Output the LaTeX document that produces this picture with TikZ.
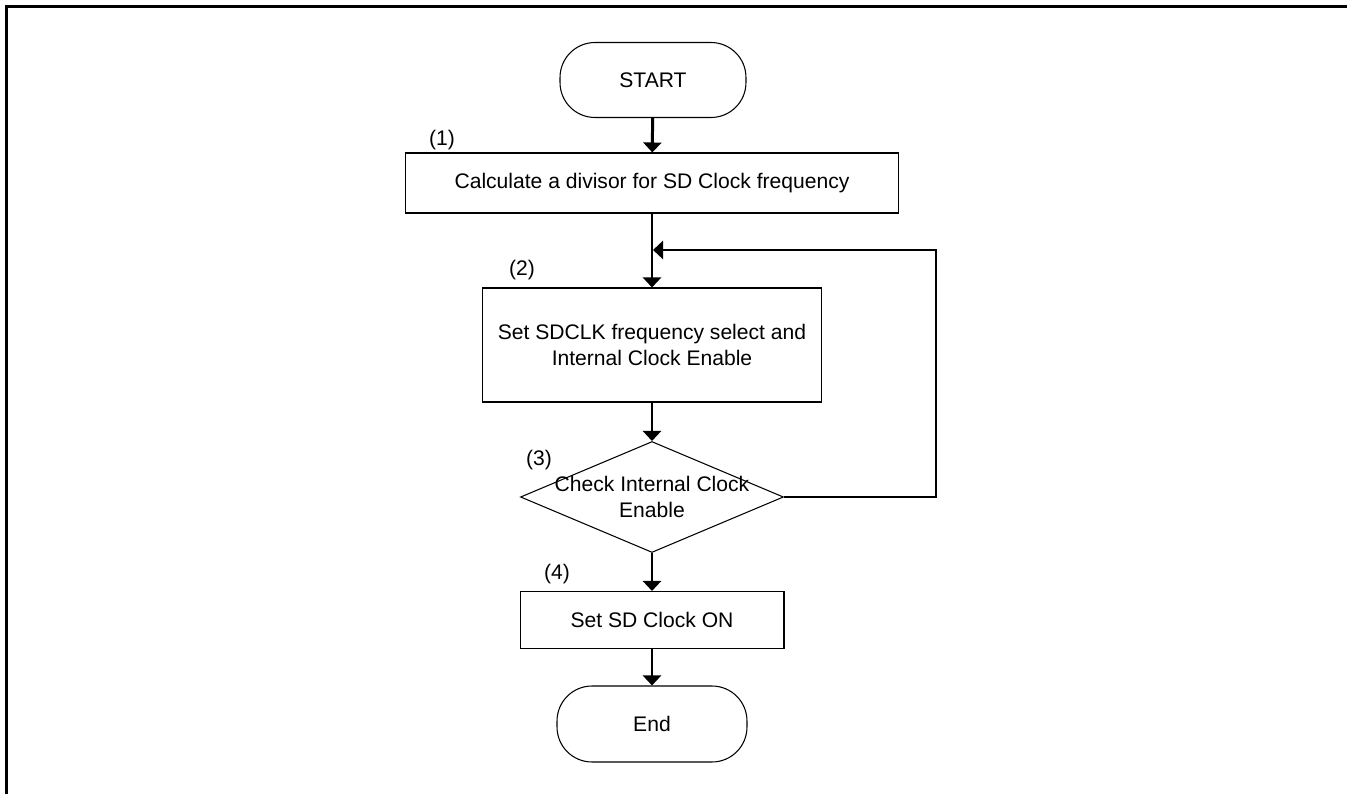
\documentclass[tikz,border=0pt]{standalone}
\usepackage{fontspec}
\setmainfont{Liberation Sans}
\usetikzlibrary{arrows.meta,shapes.geometric}
\begin{document}
\begin{tikzpicture}[x=0.02cm, y=-0.02cm,
		every node/.style={font=\fontsize{12}{14.7}\selectfont},
		terminal/.style={draw, line width=0.6pt, rounded corners=0.7cm, minimum width=3.72cm, minimum height=1.5cm},
		process/.style={draw, line width=0.6pt, align=center},
		decision/.style={draw, diamond, line width=0.6pt, minimum width=5.26cm, minimum height=2.22cm, inner sep=0pt},
		flow/.style={line width=1.7pt, -{Triangle[width=0.36cm,length=0.2cm]}},
		tag/.style={inner sep=0pt}]
	\useasboundingbox (0,0) rectangle (1347,794);
	\draw[line width=1.2pt] (6.5,794) -- (6.5,6.5) -- (1347,6.5);
	% steps
	\node[terminal] (start) at (653,80) {START};
	\node[process, minimum width=9.86cm, minimum height=1.2cm] (calc) at (652,183) {Calculate a divisor for SD Clock frequency};
	\node[process, minimum width=6.8cm, minimum height=2.28cm] (set) at (652,345) {Set SDCLK frequency select and\\Internal Clock Enable};
	\node[decision] (check) at (652,497) {};
	\node[align=center] (checktext) at (check) {Check Internal Clock\\Enable};
	\node[process, minimum width=5.28cm, minimum height=1.14cm] (on) at (652,620) {Set SD Clock ON};
	\node[terminal, minimum width=3.8cm, minimum height=1.52cm] (end) at (652,724) {End};
	% step numbers
	\node[tag] (n1) at (442,140) {(1)};
	\node[tag] (n2) at (522,270) {(2)};
	\node[tag] (n3) at (539,460) {(3)};
	\node[tag] (n4) at (557,574) {(4)};
	% arrows
	\coordinate (join) at (653,250);
	\coordinate (corner) at (936,250);
	\draw[flow] (start) -- (calc);
	\draw[flow] (calc) -- (set);
	\draw[flow] (check.east) -| (corner) -- (join);
	\draw[flow] (set) -- (check);
	\draw[flow] (check) -- (on);
	\draw[flow] (on) -- (end);
\end{tikzpicture}
\end{document}
